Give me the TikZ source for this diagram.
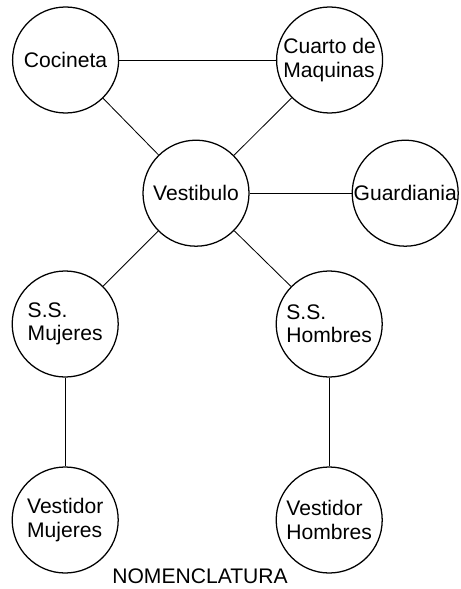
\documentclass[tikz,border=0pt]{standalone}
\usepackage{fontspec}
\setmainfont{Liberation Sans}
\usetikzlibrary{positioning}

\begin{document}
\begin{tikzpicture}[
      room/.style={draw,circle,line width=0.9pt,minimum size=2.65cm,inner sep=0pt,
                   font=\fontsize{15}{16.5}\selectfont,align=left},
      link/.style={draw,line width=0.6pt}]

    \useasboundingbox (0,0) rectangle (11.525,-14.725);

    \node[room] (cocina)    at (1.64,-1.50)  {Cocineta};
    \node[room] (maquinas)  at (8.24,-1.50)  {Cuarto de\\Maquinas};
    \node[room] (vestibulo) at (4.90,-4.83)  {Vestibulo};
    \node[room] (guardia)   at (10.13,-4.83) {Guardiania};

    \node[room] (ssmuj)     at (1.63,-8.10)  {S.S.\\Mujeres};
    \node[room] (sshom)     at (8.23,-8.10)  {S.S.\\Hombres};
    \node[room] (vestmuj)   at (1.63,-13.00) {Vestidor\\Mujeres};
    \node[room] (vesthom)   at (8.23,-13.00) {Vestidor\\Hombres};

    \draw[link] (cocina) -- (maquinas);
    \draw[link] (cocina) -- (vestibulo);
    \draw[link] (maquinas) -- (vestibulo);
    \draw[link] (vestibulo) -- (guardia);

    \draw[link] (vestibulo) -- (ssmuj);
    \draw[link] (vestibulo) -- (sshom);
    \draw[link] (ssmuj) -- (vestmuj);
    \draw[link] (sshom) -- (vesthom);

    \node[font=\fontsize{15}{16.5}\selectfont] (nomen) at (5.00,-14.40) {NOMENCLATURA};
  \end{tikzpicture}
\end{document}
